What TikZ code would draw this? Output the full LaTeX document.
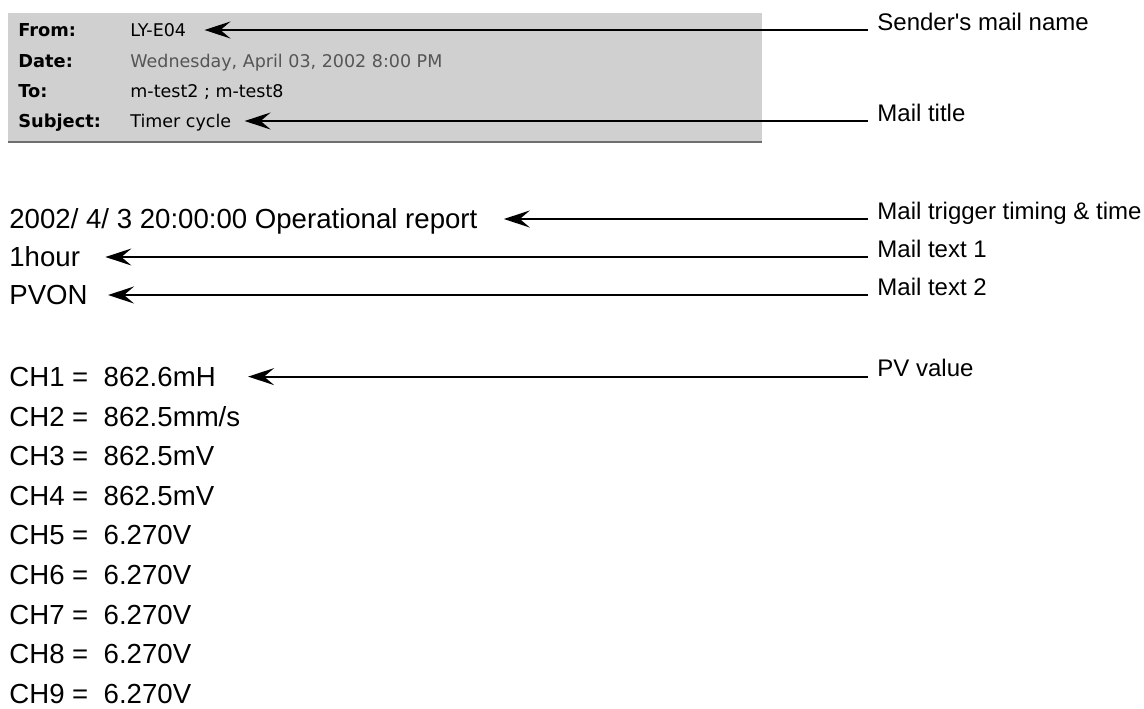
\documentclass[tikz,border=0pt]{standalone}
\usepackage{fontspec}
\setmainfont{Liberation Sans}
\newfontfamily\hdrfont{DejaVu Sans}
\usetikzlibrary{arrows.meta}
\definecolor{hdrgray}{RGB}{208,208,208}
\definecolor{hdrline}{RGB}{110,110,110}
\definecolor{dategray}{RGB}{85,85,85}

\begin{document}
\begin{tikzpicture}
           [x=0.5pt,y=-0.5pt,
            body/.style={anchor=west,inner sep=0pt,text height=9.9pt,text depth=0pt,font=\fontsize{13.8}{16}\selectfont},
            note/.style={anchor=base west,inner sep=0pt,font=\fontsize{12}{14}\selectfont},
            hkey/.style={anchor=west,inner sep=0pt,text height=6.4pt,text depth=0pt,font=\hdrfont\bfseries\fontsize{8.9}{10}\selectfont},
            hval/.style={anchor=west,inner sep=0pt,text height=6.4pt,text depth=0pt,font=\hdrfont\fontsize{8.75}{10}\selectfont},
            callout/.style={line width=0.9pt,-{Stealth[length=13pt,width=8.5pt,inset=5pt]}}]
           \useasboundingbox (0,0) rectangle (1144,708);

           \fill[hdrgray] (8,13) rectangle (762,142);
           \draw[hdrline,line width=1pt] (8,142) -- (762,142);

           \node[hkey] (fromkey) at (18,30) {From:};
           \node[hkey] (datekey) at (18,61) {Date:};
           \node[hkey] (tokey) at (18,91) {To:};
           \node[hkey] (subjkey) at (18,121) {Subject:};

           \node[hval] (from) at (130,30) {LY-E04};
           \node[hval,text=dategray] (date) at (130,61) {Wednesday, April 03, 2002 8:00 PM};
           \node[hval] (to) at (130,91) {m-test2 ; m-test8};
           \node[hval] (subj) at (130,121) {Timer cycle};

           \node[body] (trig) at (9,219) {2002/ 4/ 3 20:00:00 Operational report};
           \node[body] (text1) at (9,257) {1hour};
           \node[body] (text2) at (9,295) {PVON};
           \foreach \i/\v in {1/862.6mH,2/{862.5mm/s},3/862.5mV,4/862.5mV,5/6.270V,6/6.270V,7/6.270V,8/6.270V,9/6.270V}
             \node[body] (ch\i) at (9,337+39.6*\i) {CH\i\ = \ \v};

           \coordinate (senderend) at (868,30);
           \coordinate (titleend) at (868,121);
           \coordinate (trigend) at (868,219);
           \coordinate (text1end) at (868,257);
           \coordinate (text2end) at (868,295);
           \coordinate (pvend) at (868,376.6);

           \node[note] (sendernote) at ([shift={(9,0)}]senderend) {Sender\textquotesingle s mail name};
           \node[note] (titlenote) at ([shift={(9,0)}]titleend) {Mail title};
           \node[note] (trignote) at ([shift={(9,0)}]trigend) {Mail trigger timing \& time};
           \node[note] (text1note) at ([shift={(9,0)}]text1end) {Mail text 1};
           \node[note] (text2note) at ([shift={(9,0)}]text2end) {Mail text 2};
           \node[note] (pvnote) at ([shift={(9,0)}]pvend) {PV value};

           \draw[callout] (senderend) -- ([shift={(18,0)}]from.east);
           \draw[callout] (titleend) -- ([shift={(13,0)}]subj.east);
           \draw[callout] (trigend) -- ([shift={(26,0)}]trig.east);
           \draw[callout] (text1end) -- ([shift={(25,0)}]text1.east);
           \draw[callout] (text2end) -- ([shift={(20,0)}]text2.east);
           \draw[callout] (pvend) -- ([shift={(32,0)}]ch1.east);
         \end{tikzpicture}
\end{document}
